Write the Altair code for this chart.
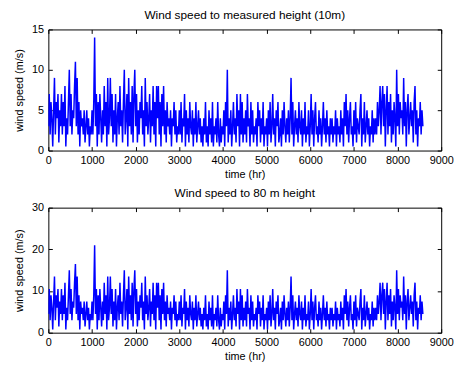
import altair as alt
import pandas as pd

# Wind speed at measured height (10 m), one reading every 20 h, m/s
speed_10m = [
    3, 7, 2, 6, 4, 0.5, 5, 9, 2, 6, 4, 7, 1, 5, 3, 7, 2, 6, 3, 8, 0.5, 4, 2, 6, 10,
    3, 7, 2, 5, 4, 8, 11, 3, 9, 2, 6, 0.5, 5, 3, 4, 2, 5, 1, 3, 5, 2, 4, 0.5, 3, 2,
    5, 2, 6, 14, 3, 7, 0.5, 6, 2, 7, 4, 1, 5, 2, 8, 3, 6, 0.5, 9, 2, 4, 9, 3, 7, 1,
    5, 2, 7, 0.5, 4, 6, 2, 8, 3, 5, 1, 6, 10, 2, 4, 7, 0.5, 9, 3, 6, 2, 8, 1, 7, 10,
    3, 7, 1, 5, 2, 6, 4, 8, 2, 5, 0.5, 9, 3, 6, 2, 4, 7, 1, 5, 3, 8, 2, 6, 0.5, 8,
    4, 8, 2, 6, 0.5, 7, 3, 8, 2, 5, 1, 6, 3, 4, 2, 5, 0.5, 4, 3, 6, 2, 5, 1, 3, 2,
    5, 2, 6, 1, 4, 3, 7, 0.5, 5, 2, 4, 1, 6, 3, 2, 5, 0.5, 4, 2, 6, 1, 3, 5, 2, 4,
    1, 3, 0.5, 4, 2, 6, 1, 3, 0.5, 5, 2, 4, 1, 6, 0.5, 3, 2, 4, 1, 6, 2, 0.5, 4, 1, 3,
    2, 5, 0.5, 6, 3, 10, 1, 4, 2, 5, 0.5, 3, 6, 2, 4, 1, 7, 3, 5, 0.5, 7, 2, 6, 1, 4,
    2, 5, 1, 7, 3, 4, 0.5, 6, 2, 5, 1, 3, 2, 4, 0.5, 6, 3, 5, 1, 4, 2, 6, 0.5, 3, 2,
    4, 0.5, 5, 2, 6, 1, 3, 7, 2, 4, 0.5, 5, 3, 6, 1, 2, 4, 0.5, 5, 2, 6, 3, 1, 4, 2,
    5, 1, 4, 9, 2, 6, 0.5, 3, 5, 2, 4, 1, 6, 3, 2, 5, 0.5, 4, 2, 6, 1, 3, 2, 5, 0.5,
    3, 7, 2, 5, 0.5, 4, 6, 2, 3, 1, 5, 2, 4, 0.5, 3, 6, 2, 4, 1, 5, 2, 3, 0.5, 4, 2,
    4, 1, 3, 2, 5, 0.5, 4, 2, 3, 1, 5, 2, 4, 0.5, 6, 3, 7, 2, 5, 1, 4, 6, 2, 3, 0.5,
    5, 2, 6, 1, 4, 3, 2, 5, 7, 0.5, 4, 2, 6, 1, 3, 5, 2, 4, 0.5, 3, 2, 5, 1, 4, 2,
    4, 2, 6, 3, 5, 8, 2, 6, 8, 3, 7, 0.5, 5, 8, 2, 6, 3, 7, 1, 5, 2, 6, 4, 0.5, 10,
    3, 7, 2, 6, 4, 5, 2, 9, 3, 6, 0.5, 5, 7, 2, 4, 6, 3, 5, 1, 6, 8, 2, 5, 0.5, 4,
    3, 6, 2, 5, 3,
]

# Wind speed extrapolated to 80 m height, m/s
speed_80m = [
    4.5, 10.5, 3, 9, 6, 0.75, 7.5, 13.5, 3, 9, 6, 10.5, 1.5, 7.5, 4.5, 10.5, 3, 9, 4.5, 12, 0.75, 6, 3, 9, 15,
    4.5, 10.5, 3, 7.5, 6, 12, 16.5, 4.5, 13.5, 3, 9, 0.75, 7.5, 4.5, 6, 3, 7.5, 1.5, 4.5, 7.5, 3, 6, 0.75, 4.5, 3,
    7.5, 3, 9, 21, 4.5, 10.5, 0.75, 9, 3, 10.5, 6, 1.5, 7.5, 3, 12, 4.5, 9, 0.75, 13.5, 3, 6, 13.5, 4.5, 10.5, 1.5,
    7.5, 3, 10.5, 0.75, 6, 9, 3, 12, 4.5, 7.5, 1.5, 9, 15, 3, 6, 10.5, 0.75, 13.5, 4.5, 9, 3, 12, 1.5, 10.5, 15,
    4.5, 10.5, 1.5, 7.5, 3, 9, 6, 12, 3, 7.5, 0.75, 13.5, 4.5, 9, 3, 6, 10.5, 1.5, 7.5, 4.5, 12, 3, 9, 0.75, 12,
    6, 12, 3, 9, 0.75, 10.5, 4.5, 12, 3, 7.5, 1.5, 9, 4.5, 6, 3, 7.5, 0.75, 6, 4.5, 9, 3, 7.5, 1.5, 4.5, 3,
    7.5, 3, 9, 1.5, 6, 4.5, 10.5, 0.75, 7.5, 3, 6, 1.5, 9, 4.5, 3, 7.5, 0.75, 6, 3, 9, 1.5, 4.5, 7.5, 3, 6,
    1.5, 4.5, 0.75, 6, 3, 9, 1.5, 4.5, 0.75, 7.5, 3, 6, 1.5, 9, 0.75, 4.5, 3, 6, 1.5, 9, 3, 0.75, 6, 1.5, 4.5,
    3, 7.5, 0.75, 9, 4.5, 15, 1.5, 6, 3, 7.5, 0.75, 4.5, 9, 3, 6, 1.5, 10.5, 4.5, 7.5, 0.75, 10.5, 3, 9, 1.5, 6,
    3, 7.5, 1.5, 10.5, 4.5, 6, 0.75, 9, 3, 7.5, 1.5, 4.5, 3, 6, 0.75, 9, 4.5, 7.5, 1.5, 6, 3, 9, 0.75, 4.5, 3,
    6, 0.75, 7.5, 3, 9, 1.5, 4.5, 10.5, 3, 6, 0.75, 7.5, 4.5, 9, 1.5, 3, 6, 0.75, 7.5, 3, 9, 4.5, 1.5, 6, 3,
    7.5, 1.5, 6, 13.5, 3, 9, 0.75, 4.5, 7.5, 3, 6, 1.5, 9, 4.5, 3, 7.5, 0.75, 6, 3, 9, 1.5, 4.5, 3, 7.5, 0.75,
    4.5, 10.5, 3, 7.5, 0.75, 6, 9, 3, 4.5, 1.5, 7.5, 3, 6, 0.75, 4.5, 9, 3, 6, 1.5, 7.5, 3, 4.5, 0.75, 6, 3,
    6, 1.5, 4.5, 3, 7.5, 0.75, 6, 3, 4.5, 1.5, 7.5, 3, 6, 0.75, 9, 4.5, 10.5, 3, 7.5, 1.5, 6, 9, 3, 4.5, 0.75,
    7.5, 3, 9, 1.5, 6, 4.5, 3, 7.5, 10.5, 0.75, 6, 3, 9, 1.5, 4.5, 7.5, 3, 6, 0.75, 4.5, 3, 7.5, 1.5, 6, 3,
    6, 3, 9, 4.5, 7.5, 12, 3, 9, 12, 4.5, 10.5, 0.75, 7.5, 12, 3, 9, 4.5, 10.5, 1.5, 7.5, 3, 9, 6, 0.75, 15,
    4.5, 10.5, 3, 9, 6, 7.5, 3, 13.5, 4.5, 9, 0.75, 7.5, 10.5, 3, 6, 9, 4.5, 7.5, 1.5, 9, 12, 3, 7.5, 0.75, 6,
    4.5, 9, 3, 7.5, 4.5,
]

hours = list(range(0, 20 * len(speed_10m), 20))

x_ticks = [0, 1000, 2000, 3000, 4000, 5000, 6000, 7000, 8000, 9000]
y_ticks_10m = [0, 5, 10, 15]
y_ticks_80m = [0, 10, 20, 30]

titles = ["Wind speed to measured height (10m)", "Wind speed to 80 m height"]
x_title = "time (hr)"
y_title = "wind speed (m/s)"

FONT = "Liberation Sans"
W = 399
TICK = 4


def panel(values, ymax, yticks, title, h):
    df = pd.DataFrame({"t": hours, "v": values})
    xs = alt.Scale(domain=[0, 9000], nice=False, zero=False)
    ys = alt.Scale(domain=[0, ymax], nice=False)
    line = alt.Chart(df).mark_line(color="#0000FF", strokeWidth=1.5, clip=True).encode(
        x=alt.X("t:Q", scale=xs, axis=alt.Axis(
            values=x_ticks, title=x_title, ticks=False, domain=False, grid=False,
            labelPadding=4, titlePadding=3, labelFlush=False, labelOverlap=False,
            format="d")),
        y=alt.Y("v:Q", scale=ys, axis=alt.Axis(
            values=yticks, title=y_title, ticks=False, domain=False, grid=False,
            labelPadding=5, titlePadding=7, labelFlush=False, labelOverlap=False,
            format="d")),
    )
    dummy = pd.DataFrame({"t": [0], "v": [0]})
    tick_ax = dict(labels=False, title=None, domain=False, grid=False, ticks=True,
                   tickSize=TICK, tickColor="black", tickWidth=1,
                   minExtent=0, maxExtent=0)
    # inward ticks along the bottom and left edges
    near = alt.Chart(dummy).mark_point(opacity=0).encode(
        x=alt.X("t:Q", scale=xs, axis=alt.Axis(orient="bottom", values=x_ticks,
                                               offset=-TICK, **tick_ax)),
        y=alt.Y("v:Q", scale=ys, axis=alt.Axis(orient="left", values=yticks,
                                               offset=-TICK, **tick_ax)),
    )
    # inward ticks along the top and right edges
    far = alt.Chart(dummy).mark_point(opacity=0).encode(
        x=alt.X("t:Q", scale=xs, axis=alt.Axis(orient="bottom", values=x_ticks,
                                               offset=-h, **tick_ax)),
        y=alt.Y("v:Q", scale=ys, axis=alt.Axis(orient="left", values=yticks,
                                               offset=-W, **tick_ax)),
    )
    return alt.layer(line, near, far).resolve_axis(
        x="independent", y="independent"
    ).properties(
        width=W, height=h,
        title=alt.TitleParams(title, fontSize=12, fontWeight="normal", font=FONT,
                              color="black", offset=2),
    )


top = panel(speed_10m, 15, y_ticks_10m, titles[0], 123)
bottom = panel(speed_80m, 30, y_ticks_80m, titles[1], 127)

chart = alt.vconcat(top, bottom, spacing=6).properties(
    padding={"left": 5, "top": -3, "right": 0, "bottom": -2},
    background="white",
).configure_view(
    stroke="black", strokeWidth=1
).configure_axis(
    labelFont=FONT, titleFont=FONT, labelFontSize=11, titleFontSize=11,
    labelColor="black", titleColor="black", titleFontWeight="normal",
)

chart.save("out.html", embed_options={"renderer": "svg", "actions": False})
